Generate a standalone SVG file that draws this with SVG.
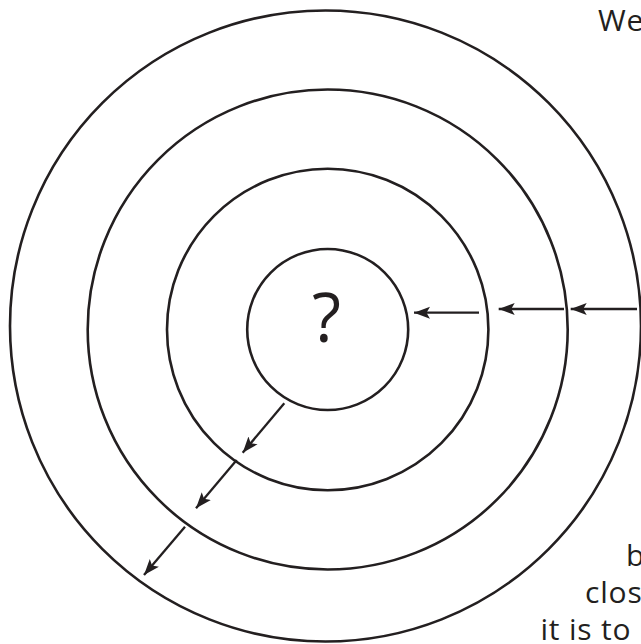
<svg xmlns="http://www.w3.org/2000/svg" width="641" height="644" viewBox="0 0 641 644">
<defs>
<style>
.ring{fill:none;stroke:#231f20;stroke-width:2.6}
.arr{fill:none;stroke:#231f20;stroke-width:2.3;marker-end:url(#ah)}
.t{font-family:"Open Sans","Noto Sans",sans-serif;fill:#231f20}
.lbl{font-size:30px;letter-spacing:0.8px}
</style>
<marker id="ah" markerUnits="userSpaceOnUse" markerWidth="18" markerHeight="14" refX="16" refY="6.5" orient="auto" viewBox="0 0 18 14">
<path d="M0,0.5 L16,6.5 L0,12.5 L3.5,6.5 z" fill="#231f20"/>
</marker>
</defs>
<rect width="641" height="644" fill="#ffffff"/>
<g id="ring4"><circle class="ring" cx="325.5" cy="326" r="315.5"/></g>
<g id="ring3"><circle class="ring" cx="327.7" cy="329.5" r="240"/></g>
<g id="ring2"><circle class="ring" cx="327.7" cy="329.5" r="160.7"/></g>
<g id="center"><circle class="ring" cx="327.7" cy="329.5" r="80.5"/>
<text class="t" x="326.5" y="342" font-size="67" text-anchor="middle">?</text></g>
<g id="connectors">
<line class="arr" x1="479" y1="312.7" x2="414" y2="312.7"/>
<line class="arr" x1="564" y1="309" x2="498.7" y2="309"/>
<line class="arr" x1="637" y1="309" x2="570.7" y2="309"/>
<line class="arr" x1="284.3" y1="403.3" x2="242.7" y2="452.7"/>
<line class="arr" x1="236.7" y1="460" x2="196" y2="508.3"/>
<line class="arr" x1="185" y1="526.7" x2="144" y2="575"/>
</g>
<g id="texts">
<text class="t lbl" x="598" y="31">We</text>
<text class="t lbl" x="626" y="566">b</text>
<text class="t lbl" x="585" y="603">clos</text>
<text class="t lbl" x="540.5" y="640">it is to</text>
</g>
</svg>
